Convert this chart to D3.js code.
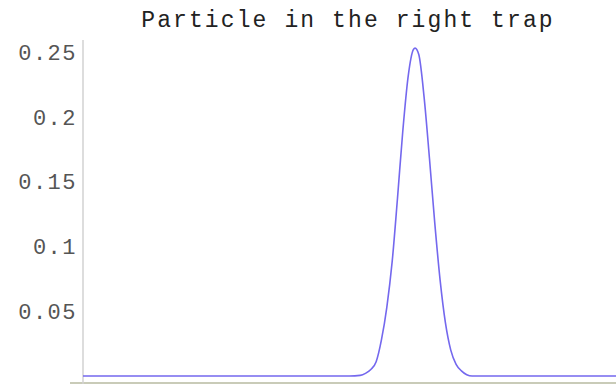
<!DOCTYPE html>
<html>
<head>
<meta charset="utf-8">
<script src="https://cdn.jsdelivr.net/npm/d3@7"></script>
<style>
body { margin: 0; background: #fff; }
svg { display: block; }
</style>
</head>
<body>
<svg id="chart" width="616" height="388"></svg>
<script>
// curve (x in arbitrary units, 0..100)
var xs = [0, 50, 52, 53, 54, 55, 56, 57, 58, 59, 60, 61, 62, 62.3, 63, 64, 65, 66, 67, 68, 69, 70, 71, 72, 73, 100];
var ys = [0, 0, 0.0005, 0.002, 0.005, 0.011, 0.028, 0.053, 0.088, 0.137, 0.189, 0.231, 0.252, 0.253, 0.248, 0.215, 0.168, 0.118, 0.074, 0.041, 0.020, 0.009, 0.004, 0.001, 0, 0];
var yTicks = [0.05, 0.1, 0.15, 0.2, 0.25];
var yTickLabels = ["0.05", "0.1", "0.15", "0.2", "0.25"];
var title = "Particle in the right trap";

var svg = d3.select("#chart");

var x = d3.scaleLinear().domain([0, 100]).range([83, 616]);
var y = d3.scaleLinear().domain([0, 0.25]).range([376, 52]);

var font = "'Liberation Mono', 'Courier New', monospace";

// x axis line
svg.append("line")
    .attr("x1", 70).attr("x2", 616)
    .attr("y1", 383).attr("y2", 383)
    .attr("stroke", "#c9cbb8").attr("stroke-width", 2);

// y axis line
svg.append("line")
    .attr("x1", 83).attr("x2", 83)
    .attr("y1", 40).attr("y2", 384)
    .attr("stroke", "#d2d2d2").attr("stroke-width", 1.5);

// tick labels
svg.selectAll("text.ytick")
    .data(yTicks)
    .enter().append("text")
    .attr("class", "ytick")
    .attr("x", 77)
    .attr("y", function(d) { return y(d); })
    .attr("dy", "0.35em")
    .attr("text-anchor", "end")
    .attr("font-family", font)
    .attr("font-size", 22)
    .attr("letter-spacing", 1.5)
    .attr("fill", "#555")
    .text(function(d, i) { return yTickLabels[i]; });

// title
svg.append("text")
    .attr("x", 348)
    .attr("y", 27)
    .attr("text-anchor", "middle")
    .attr("font-family", font)
    .attr("font-size", 23)
    .attr("letter-spacing", 2.1)
    .attr("fill", "#222")
    .text(title);

var line = d3.line()
    .x(function(d) { return x(d[0]); })
    .y(function(d) { return y(d[1]); })
    .curve(d3.curveMonotoneX);

svg.append("path")
    .datum(d3.zip(xs, ys))
    .attr("d", line)
    .attr("fill", "none")
    .attr("stroke", "#7468ee")
    .attr("stroke-width", 1.6);
</script>
</body>
</html>
